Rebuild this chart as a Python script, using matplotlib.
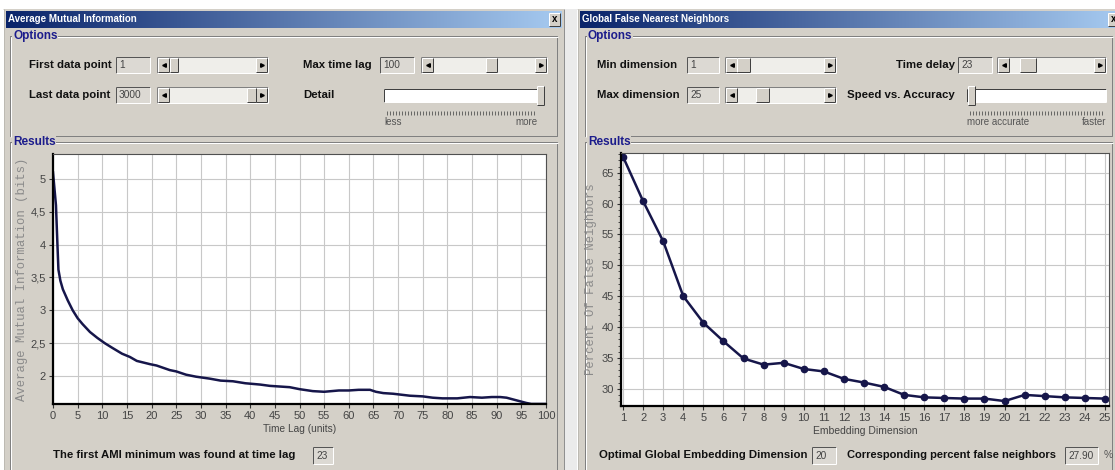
import numpy as np
import matplotlib
matplotlib.use("Agg")
import matplotlib.pyplot as plt
from matplotlib.patches import Rectangle
from matplotlib.colors import LinearSegmentedColormap
from matplotlib.ticker import MultipleLocator, FuncFormatter

# ---- data ----
ami_lag = [0, 0.3, 0.6, 0.9, 1.1, 1.5, 2, 3, 4, 5, 6, 7.5, 9, 10.5, 12, 14, 15.6, 17,
           19.7, 21, 23.7, 25, 27, 29, 31.8, 34, 36.5, 39, 42, 44, 46, 48, 50, 52.7,
           55, 58, 60, 62, 64.3, 65.5, 67, 69, 72.4, 75, 77, 79, 82, 84.6, 87, 89,
           90.7, 92, 94, 95, 96, 97, 100]
ami_bits = [5.1, 4.85, 4.6, 4.0, 3.62, 3.45, 3.32, 3.15, 3.0, 2.88, 2.79, 2.67, 2.58,
            2.50, 2.43, 2.34, 2.29, 2.23, 2.18, 2.16, 2.09, 2.07, 2.02, 1.99, 1.96,
            1.93, 1.92, 1.89, 1.87, 1.85, 1.84, 1.83, 1.80, 1.77, 1.76, 1.78, 1.78,
            1.79, 1.79, 1.76, 1.74, 1.73, 1.70, 1.69, 1.67, 1.66, 1.66, 1.68, 1.67,
            1.68, 1.68, 1.67, 1.63, 1.61, 1.59, 1.575, 1.575]

fnn_dim = list(range(1, 26))
fnn_pct = [67.6, 60.4, 53.9, 45.0, 40.7, 37.7, 34.9, 33.9, 34.2, 33.2, 32.8, 31.6,
           31.0, 30.3, 29.0, 28.6, 28.5, 28.4, 28.4, 28.0, 29.0, 28.8, 28.6, 28.5, 28.4]

ami_xticks = list(range(0, 101, 5))
ami_yticks = [2, 2.5, 3, 3.5, 4, 4.5, 5]
fnn_yticks = [30, 35, 40, 45, 50, 55, 60, 65]

# ---- look ----
W, H = 1115, 470
FACE = "#d4d0c8"
TRACK = "#efeeea"
DARK = "#808080"
WHITE = "#ffffff"
NAVY = "#16164a"
GROUP_BLUE = "#1c1c8c"
PX = 0.72  # one pixel in points
UI = ["Liberation Sans", "DejaVu Sans"]
MONO = ["Liberation Mono", "DejaVu Sans Mono"]

fig = plt.figure(figsize=(W / 100, H / 100), dpi=100)
bg = fig.add_axes([0, 0, 1, 1], zorder=0)
bg.set_axis_off()


def rect(x0, y0, x1, y1, fc, z=1):
    bg.add_patch(Rectangle((x0, y0), x1 - x0, y1 - y0, facecolor=fc, edgecolor="none", zorder=z))


def line(xs, ys, c, lw=PX, z=3):
    bg.plot(xs, ys, color=c, lw=lw, zorder=z, solid_capstyle="butt")


def bevel(x0, y0, x1, y1, light, dark, z=3):
    line([x0, x1], [y0, y0], light, z=z)
    line([x0, x0], [y0, y1], light, z=z)
    line([x0, x1], [y1, y1], dark, z=z)
    line([x1, x1], [y0, y1], dark, z=z)


def label(x, y, s, size=8.2, ha="left", color="#111111", bold=True):
    bg.text(x, y, s, ha=ha, va="center", fontsize=size, color=color,
            family=UI, fontweight="bold" if bold else "normal", zorder=6)


def field(x0, y0, x1, y1, s):
    rect(x0, y0, x1, y1, "#dcd9d3", z=2)
    bevel(x0, y0, x1, y1, "#555555", WHITE)
    bg.text(x0 + 3, (y0 + y1) / 2 + 0.5, s, ha="left", va="center", fontsize=7.3,
            family=UI, color="#444444", zorder=6)


def button(x0, y0, x1, y1, arrow=None):
    rect(x0, y0, x1, y1, FACE, z=3)
    bevel(x0, y0, x1, y1, WHITE, "#404040", z=4)
    if arrow:
        bg.plot((x0 + x1) / 2, (y0 + y1) / 2, marker=arrow, ms=2.6, color="black", zorder=5)


def scrollbar(x0, y0, x1, y1, t0, t1):
    rect(x0, y0, x1, y1, TRACK, z=2)
    bevel(x0, y0, x1, y1, DARK, WHITE)
    button(x0 + 1, y0 + 1, x0 + 12, y1 - 1, "<")
    button(x1 - 12, y0 + 1, x1 - 1, y1 - 1, ">")
    button(t0, y0 + 1, t1, y1 - 1)


def slider(x0, y0, x1, y1, tx, ticks_y, lo, hi):
    rect(x0, y0, x1, y1, WHITE, z=2)
    bevel(x0, y0, x1, y1, "#404040", WHITE)
    button(tx, y0 - 3, tx + 7, y1 + 3)
    xs = np.arange(x0 + 3, x1 - 1, 3.0)
    bg.plot(xs, [ticks_y] * len(xs), ls="none", marker="|", ms=2.5, mew=0.6,
            color="#555555", zorder=4)
    label(x0, ticks_y + 9, lo, size=7, color="#555555", bold=False)
    label(x1, ticks_y + 9, hi, size=7, ha="right", color="#555555", bold=False)


def group(x0, y0, x1, y1, s):
    line([x0, x1, x1, x0, x0], [y0, y0, y1, y1, y0], DARK)
    line([x0 + 1, x1 + 1], [y0 + 1, y0 + 1], WHITE)
    line([x0 + 1, x0 + 1], [y0 + 1, y1 + 1], WHITE)
    bg.text(x0 + 3, y0, s, ha="left", va="center", fontsize=8.5, fontweight="bold",
            family=UI, color=GROUP_BLUE, zorder=6,
            bbox=dict(facecolor=FACE, edgecolor="none", pad=0.5))


def window(x0, x1, title, close_x):
    rect(x0, 9, x1, H + 2, FACE, z=1)
    line([x0, x0], [9, H], WHITE)
    line([x0 + 1, x0 + 1], [9, H], "#bdbab3")
    cmap = LinearSegmentedColormap.from_list("tb", ["#0a246a", "#a6caf0"])
    bg.imshow(np.linspace(0, 1, 256)[None, :], extent=(x0 + 3, close_x + 13, 28, 11),
              cmap=cmap, aspect="auto", zorder=2, interpolation="bilinear")
    bg.text(x0 + 5, 19.5, title, ha="left", va="center", fontsize=7, color=WHITE,
            fontweight="bold", family=UI, zorder=6)
    button(close_x, 13, close_x + 11, 26)
    bg.text(close_x + 5.5, 19.5, "x", ha="center", va="center", fontsize=7,
            fontweight="bold", family=UI, zorder=6)


# top strip and gap between the two windows
rect(0, 0, W, 9, WHITE, z=0)
window(3, 564, "Average Mutual Information", 549)
window(577, 1120, "Global False Nearest Neighbors", 1108)
rect(564, 9, 577, H + 2, "#ebebeb", z=1)
line([564, 564], [9, H], "#909090")

# ---- left window controls ----
group(10, 36, 557, 136, "Options")
label(29, 65, "First data point")
field(116, 57, 150, 73, "1")
scrollbar(157, 57, 268, 73, 170, 178)
label(29, 95, "Last data point")
field(116, 87, 150, 103, "3000")
scrollbar(157, 87, 268, 103, 247, 256)
label(303, 65, "Max time lag")
field(380, 57, 414, 73, "100")
scrollbar(421, 57, 547, 73, 486, 497)
label(303, 95, "Detail")
slider(384, 89, 538, 102, 537, 113, "less", "more")

group(10, 142, 557, 480, "Results")
label(53, 455, "The first AMI minimum was found at time lag")
field(313, 447, 333, 464, "23")

# ---- right window controls ----
group(585, 36, 1112, 136, "Options")
label(597, 65, "Min dimension")
field(687, 57, 719, 73, "1")
scrollbar(725, 57, 836, 73, 737, 750)
label(597, 95, "Max dimension")
field(687, 87, 719, 103, "25")
scrollbar(725, 87, 836, 103, 756, 769)
label(955, 65, "Time delay", ha="right")
field(958, 57, 992, 73, "23")
scrollbar(997, 57, 1106, 73, 1020, 1036)
label(955, 95, "Speed vs. Accuracy", ha="right")
slider(967, 89, 1106, 102, 968, 113, "more accurate", "faster")

group(585, 142, 1112, 480, "Results")
label(599, 455, "Optimal Global Embedding Dimension")
field(812, 447, 836, 464, "20")
label(847, 455, "Corresponding percent false neighbors", size=8)
field(1065, 447, 1098, 464, "27.90")
label(1104, 455, "%", size=7.5, color="#555555", bold=False)

bg.set_xlim(0, W)
bg.set_ylim(H, 0)


# ---- the two charts ----
def px_axes(x0, y0, x1, y1):
    return fig.add_axes([x0 / W, 1 - y1 / H, (x1 - x0) / W, (y1 - y0) / H], zorder=2)


def style(ax):
    ax.set_facecolor(WHITE)
    for side in ("left", "bottom"):
        ax.spines[side].set_color("black")
        ax.spines[side].set_linewidth(1.6)
    for side in ("top", "right"):
        ax.spines[side].set_color("#505050")
        ax.spines[side].set_linewidth(0.8)
    ax.grid(True, color="#c8c8c8", lw=0.8)
    ax.set_axisbelow(True)
    ax.tick_params(length=3, width=0.8, color="#333333", labelsize=8,
                   labelcolor="#444444", pad=2)
    for t in ax.get_xticklabels() + ax.get_yticklabels():
        t.set_family(UI)


ax1 = px_axes(53, 154, 546, 404)
ax1.plot(ami_lag, ami_bits, color=NAVY, lw=1.8)
ax1.set_xlim(0, 100)
ax1.set_ylim(1.574, 5.38)
ax1.set_xticks(ami_xticks)
ax1.set_yticks(ami_yticks)
ax1.yaxis.set_major_formatter(FuncFormatter(lambda v, p: f"{v:g}".replace(".", ",")))
style(ax1)
ax1.set_xlabel("Time Lag (units)", fontsize=7.3, family=UI, color="#444444", labelpad=2)
ax1.set_ylabel("Average Mutual Information (bits)", fontsize=8.8, family=MONO,
               color="#8a8a8a")
ax1.yaxis.set_label_coords(-0.051, 0.5)

ax2 = px_axes(621, 153, 1109, 406)
ax2.plot(fnn_dim, fnn_pct, color=NAVY, lw=1.8, marker="o", ms=4.5)
ax2.set_xlim(0.9, 25.2)
ax2.set_ylim(27.2, 68.2)
ax2.set_xticks(fnn_dim)
ax2.set_yticks(fnn_yticks)
ax2.yaxis.set_minor_locator(MultipleLocator(1))
style(ax2)
ax2.tick_params(axis="y", which="minor", length=2, width=0.6, color="#333333")
ax2.set_xlabel("Embedding Dimension", fontsize=7.5, family=UI, color="#444444", labelpad=2)
ax2.set_ylabel("Percent Of False Neighbors", fontsize=8.8, family=MONO, color="#8a8a8a")
ax2.yaxis.set_label_coords(-0.049, 0.5)

fig.savefig("out.png", dpi=100)
